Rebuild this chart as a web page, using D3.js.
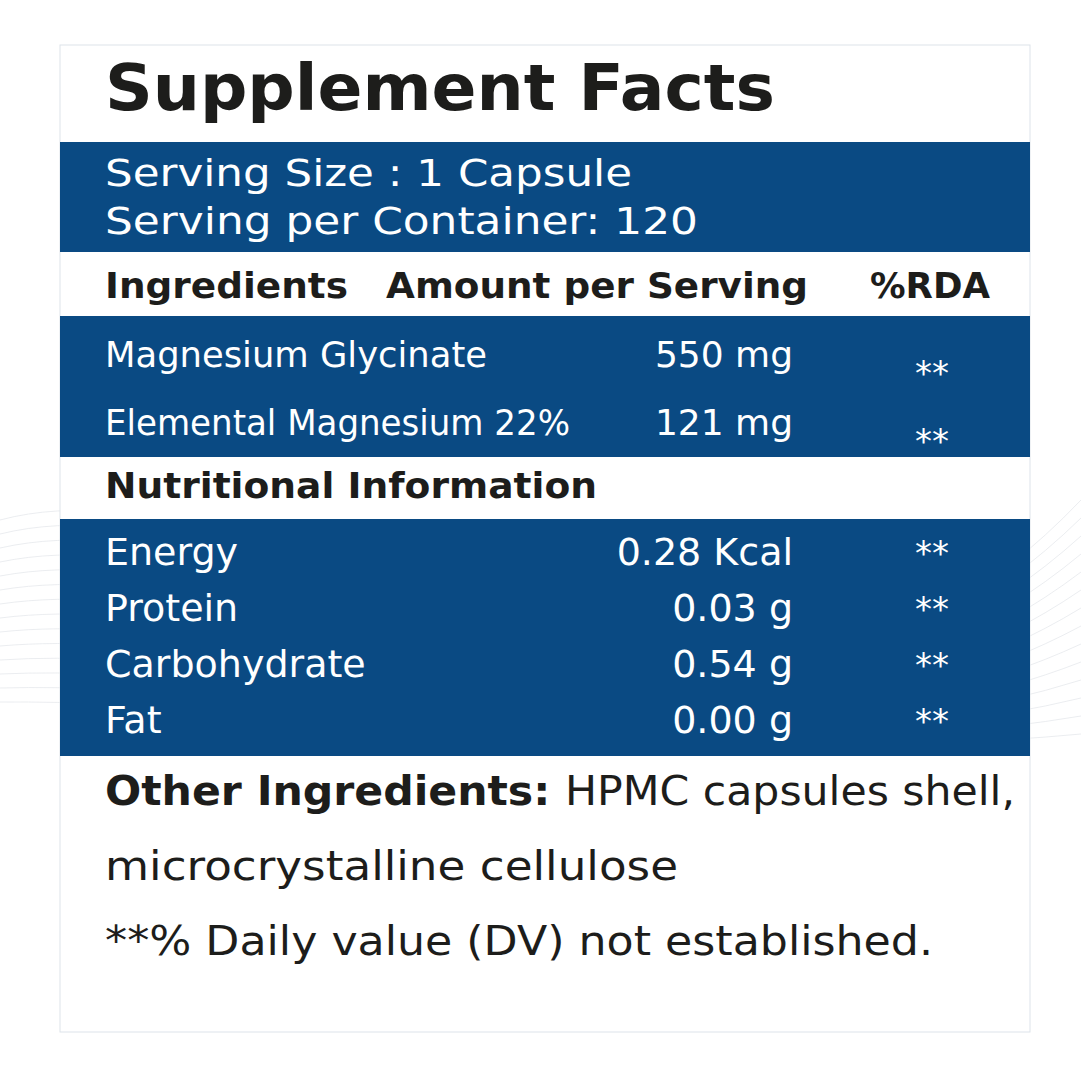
<!DOCTYPE html>
<html><head><meta charset="utf-8">
<script src="https://cdn.jsdelivr.net/npm/d3@7"></script>
<style>body{margin:0;background:#fff}</style>
</head><body><div id="chart"></div>
<script>
const ingredientNames = ["Magnesium Glycinate", "Elemental Magnesium 22%"];
const ingredientAmounts = ["550 mg", "121 mg"];
const ingredientRda = ["**", "**"];
const nutritionNames = ["Energy", "Protein", "Carbohydrate", "Fat"];
const nutritionAmounts = ["0.28 Kcal", "0.03 g", "0.54 g", "0.00 g"];
const nutritionRda = ["**", "**", "**", "**"];
const servingLines = ["Serving Size : 1 Capsule", "Serving per Container: 120"];
const headers = ["Ingredients", "Amount per Serving", "%RDA"];

const W = 1081, H = 1081, blue = "#0a4a83", ink = "#1d1d1b";
const font = "'DejaVu Sans', 'Open Sans', sans-serif";
const fit = "spacingAndGlyphs";
const svg = d3.select("#chart").append("svg").attr("width", W).attr("height", H);

// faint background waves
const g0 = svg.append("g").attr("fill", "none").attr("stroke", "#e6e8ec").attr("stroke-width", 0.8);
for (let i = 0; i < 14; i++) {
  g0.append("path").attr("d", `M0,${520 + i * 14} C300,${440 + i * 20} 700,${900 - i * 10} 1081,${500 + i * 18}`);
}
svg.append("rect").attr("x", 60).attr("y", 45).attr("width", 970).attr("height", 987)
  .attr("fill", "#fff").attr("stroke", "#dde3ea");

svg.append("text").attr("x", 105).attr("y", 110).attr("font-family", font).attr("font-weight", 700)
  .attr("font-size", 64).attr("fill", ink).attr("textLength", 670).attr("lengthAdjust", fit).text("Supplement Facts");

[[142, 252], [316, 457], [519, 756]].forEach(([a, b]) =>
  svg.append("rect").attr("x", 60).attr("y", a).attr("width", 970).attr("height", b - a).attr("fill", blue));

const servW = [527, 593];
svg.selectAll(".serv").data(servingLines).join("text")
  .attr("x", 105).attr("y", (d, i) => 186 + i * 48)
  .attr("font-family", font).attr("font-size", 38).attr("fill", "#fff")
  .attr("textLength", (d, i) => servW[i]).attr("lengthAdjust", fit).text(d => d);

const hx = [105, 386, 870], hw = [243, 422, 120];
svg.selectAll(".hdr").data(headers).join("text")
  .attr("x", (d, i) => hx[i]).attr("y", 298)
  .attr("font-family", font).attr("font-weight", 700).attr("font-size", 35).attr("fill", ink)
  .attr("textLength", (d, i) => hw[i]).attr("lengthAdjust", fit).text(d => d);

svg.append("text").attr("x", 105).attr("y", 498).attr("font-family", font).attr("font-weight", 700)
  .attr("font-size", 35).attr("fill", ink).attr("textLength", 492).attr("lengthAdjust", fit).text("Nutritional Information");

function rows(names, amounts, rda, y, nameW, size, starDy) {
  const g = svg.append("g").attr("fill", "#fff").attr("font-family", font).attr("font-size", size);
  names.forEach((n, i) => {
    const t = g.append("text").attr("x", 105).attr("y", y(i)).text(n);
    if (nameW) t.attr("textLength", nameW[i]).attr("lengthAdjust", fit);
    g.append("text").attr("x", 793).attr("y", y(i)).attr("text-anchor", "end").text(amounts[i]);
    g.append("text").attr("x", 932).attr("y", y(i) + starDy).attr("text-anchor", "middle")
      .attr("font-size", 34).text(rda[i]);
  });
}
const yIng = d3.scalePoint().domain(d3.range(ingredientNames.length)).range([367, 435]);
rows(ingredientNames, ingredientAmounts, ingredientRda, yIng, [382, 465], 36, 18);
const yNut = d3.scalePoint().domain(d3.range(nutritionNames.length)).range([565, 733]);
rows(nutritionNames, nutritionAmounts, nutritionRda, yNut, null, 38, 0);

const t1 = svg.append("text").attr("x", 105).attr("y", 805).attr("font-family", font).attr("font-size", 40)
  .attr("fill", ink).attr("textLength", 910).attr("lengthAdjust", fit);
t1.append("tspan").attr("font-weight", 700).text("Other Ingredients: ");
t1.append("tspan").text("HPMC capsules shell,");
svg.append("text").attr("x", 105).attr("y", 880).attr("font-family", font).attr("font-size", 40).attr("fill", ink)
  .attr("textLength", 573).attr("lengthAdjust", fit).text("microcrystalline cellulose");
svg.append("text").attr("x", 105).attr("y", 955).attr("font-family", font).attr("font-size", 40).attr("fill", ink)
  .attr("textLength", 828).attr("lengthAdjust", fit).text("**% Daily value (DV) not established.");
</script></body></html>
